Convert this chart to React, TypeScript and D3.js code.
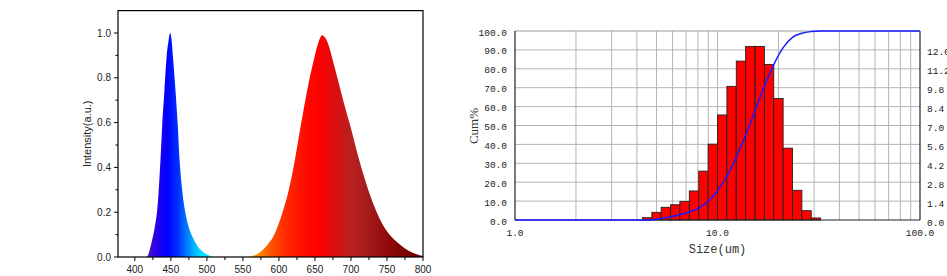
import React from "react";
import * as d3 from "d3";

// ---------- Left chart: emission spectrum ----------
const blueWave = [415, 418, 422, 425, 428, 431, 433, 436, 438, 441, 444, 447, 449, 451, 453, 456.5, 459.5, 462, 466, 470, 474, 480, 486, 492, 497, 502, 507];
const blueInt = [0, 0.006, 0.05, 0.09, 0.14, 0.21, 0.29, 0.46, 0.59, 0.74, 0.89, 0.97, 1.0, 0.97, 0.89, 0.74, 0.59, 0.44, 0.29, 0.2, 0.143, 0.09, 0.054, 0.03, 0.017, 0.009, 0];

const redWave = [555, 567, 575, 584, 592, 599, 606, 613, 622.5, 630.5, 639, 649, 655, 660, 665, 670, 675, 680, 690, 700, 710, 720, 730, 740, 750, 760, 770, 780, 790, 800];
const redInt = [0, 0.009, 0.025, 0.054, 0.09, 0.143, 0.21, 0.29, 0.44, 0.59, 0.74, 0.887, 0.96, 0.99, 0.975, 0.935, 0.875, 0.815, 0.69, 0.575, 0.45, 0.34, 0.245, 0.17, 0.115, 0.078, 0.05, 0.028, 0.013, 0.004];

const blueStopWave = [418, 430, 445, 460, 470, 480, 490, 505];
const blueStopColor = ["#4a10c8", "#2a00e8", "#0000ff", "#0030ff", "#0070ff", "#00a8ff", "#00d8ff", "#00f0ff"];
const redStopWave = [558, 575, 590, 610, 640, 655, 680, 700, 720, 750, 780, 800];
const redStopColor = ["#ffc000", "#ff8000", "#ff5000", "#ff2a00", "#ff0800", "#ff0000", "#d81010", "#b82020", "#a81c1c", "#900a0a", "#780000", "#680000"];

const specXTicks = [400, 450, 500, 550, 600, 650, 700, 750, 800];
const specXMinor = [425, 475, 525, 575, 625, 675, 725, 775];
const specYTicks = [0, 0.2, 0.4, 0.6, 0.8, 1.0];
const specYMinor = [0.1, 0.3, 0.5, 0.7, 0.9];

// ---------- Right chart: particle size distribution ----------
const binEdges = [4.26, 4.74, 5.27, 5.86, 6.52, 7.26, 8.08, 8.99, 10.0, 11.13, 12.38, 13.77, 15.32, 17.04, 18.96, 21.09, 23.46, 26.1, 29.04, 32.3];
const binHeights = [0.17, 0.57, 0.94, 1.13, 1.38, 2.15, 3.62, 5.62, 7.78, 9.9, 11.77, 12.86, 12.86, 11.52, 9.0, 5.32, 2.2, 0.69, 0.15];
const cumSize = [1.0, 4.26, 4.74, 5.27, 5.86, 6.52, 7.26, 8.08, 8.99, 10.0, 11.13, 12.38, 13.77, 15.32, 17.04, 18.96, 21.09, 23.46, 26.1, 29.04, 32.3, 100];
const cumPct = [0, 0, 0.17, 0.74, 1.68, 2.81, 4.19, 6.31, 9.9, 15.5, 23.3, 33.2, 44.9, 57.8, 70.7, 82.2, 91.2, 96.6, 98.8, 99.7, 100, 100];

const cumTicks = [0, 10, 20, 30, 40, 50, 60, 70, 80, 90, 100];
const freqTicks = [0, 1.4, 2.8, 4.2, 5.6, 7.0, 8.4, 9.8, 11.2, 12.6];
const sizeGrid = [2, 3, 4, 5, 6, 7, 8, 9, 10, 20, 30, 40, 50, 60, 70, 80, 90];
const sizeLabels = [1, 10, 100];

export default function App() {
  // left chart scales
  const sx = d3.scaleLinear().domain([376.6, 800]).range([118, 423]);
  const sy = d3.scaleLinear().domain([0, 1.1]).range([257, 10.6]);

  const mkArea = (w: number[], v: number[]) =>
    d3
      .area<number>()
      .x((_, i) => sx(w[i]))
      .y0(sy(0))
      .y1((_, i) => sy(v[i]))
      .curve(d3.curveMonotoneX)(w) as string;

  // right chart scales
  const rx = d3.scaleLog().domain([1, 100]).range([515, 920]);
  const ryL = d3.scaleLinear().domain([0, 100]).range([220, 31]);
  const ryR = d3.scaleLinear().domain([0, 14]).range([220, 31]);
  const cumLine = d3
    .line<number>()
    .x((_, i) => rx(cumSize[i]))
    .y((_, i) => ryL(cumPct[i]))
    .curve(d3.curveMonotoneX)(cumSize) as string;

  const sans = "'Liberation Sans', Arial, sans-serif";
  const mono = "'Liberation Mono', 'Courier New', monospace";

  return (
    <svg
      width={947}
      height={276}
      style={{ position: "absolute", left: 0, top: 0, background: "#fff" }}
    >
      <defs>
        <linearGradient id="gBlue" gradientUnits="userSpaceOnUse" x1={sx(blueStopWave[0])} x2={sx(blueStopWave[blueStopWave.length - 1])} y1={0} y2={0}>
          {blueStopWave.map((w, i) => (
            <stop key={i} offset={(w - blueStopWave[0]) / (blueStopWave[blueStopWave.length - 1] - blueStopWave[0])} stopColor={blueStopColor[i]} />
          ))}
        </linearGradient>
        <linearGradient id="gRed" gradientUnits="userSpaceOnUse" x1={sx(redStopWave[0])} x2={sx(redStopWave[redStopWave.length - 1])} y1={0} y2={0}>
          {redStopWave.map((w, i) => (
            <stop key={i} offset={(w - redStopWave[0]) / (redStopWave[redStopWave.length - 1] - redStopWave[0])} stopColor={redStopColor[i]} />
          ))}
        </linearGradient>
      </defs>

      {/* ---------- Left chart ---------- */}
      <path d={mkArea(blueWave, blueInt)} fill="url(#gBlue)" />
      <path d={mkArea(redWave, redInt)} fill="url(#gRed)" />
      <rect x={118} y={10.6} width={305} height={257 - 10.6} fill="none" stroke="#000" strokeWidth={1.2} />
      {specXTicks.map((t) => (
        <g key={"sx" + t}>
          <line x1={sx(t)} x2={sx(t)} y1={257} y2={261} stroke="#000" strokeWidth={1} />
          <text x={sx(t)} y={269.5} textAnchor="middle" dominantBaseline="central" fontFamily={sans} fontSize={10} fill="#222">
            {t}
          </text>
        </g>
      ))}
      {specXMinor.map((t) => (
        <line key={"sxm" + t} x1={sx(t)} x2={sx(t)} y1={257} y2={260} stroke="#000" strokeWidth={1} />
      ))}
      {specYTicks.map((t) => (
        <g key={"sy" + t}>
          <line x1={114} x2={118} y1={sy(t)} y2={sy(t)} stroke="#000" strokeWidth={1} />
          <text x={111} y={sy(t)} textAnchor="end" dominantBaseline="central" fontFamily={sans} fontSize={10} fill="#222">
            {t.toFixed(1)}
          </text>
        </g>
      ))}
      {specYMinor.map((t) => (
        <line key={"sym" + t} x1={115.5} x2={118} y1={sy(t)} y2={sy(t)} stroke="#000" strokeWidth={1} />
      ))}
      <text
        transform={`translate(87,${(257 + 10.6) / 2}) rotate(-90)`}
        textAnchor="middle"
        dominantBaseline="central"
        fontFamily={sans}
        fontSize={11}
        fill="#222"
      >
        Intensity(a.u.)
      </text>

      {/* ---------- Right chart ---------- */}
      {cumTicks.slice(1, -1).map((t) => (
        <line key={"gh" + t} x1={515} x2={920} y1={ryL(t)} y2={ryL(t)} stroke="#b4b4b4" strokeWidth={1} />
      ))}
      {sizeGrid.map((s) => (
        <line key={"gv" + s} x1={rx(s)} x2={rx(s)} y1={31} y2={220} stroke="#b4b4b4" strokeWidth={1} />
      ))}
      <line x1={515} x2={920} y1={31} y2={31} stroke="#9a9a9a" strokeWidth={1} />
      {binHeights.map((h, i) => (
        <rect
          key={"b" + i}
          x={rx(binEdges[i])}
          y={ryR(h)}
          width={rx(binEdges[i + 1]) - rx(binEdges[i])}
          height={ryR(0) - ryR(h)}
          fill="#ff0000"
          stroke="#222"
          strokeWidth={0.9}
        />
      ))}
      <line x1={515} x2={515} y1={31} y2={220} stroke="#222" strokeWidth={1.2} />
      <line x1={920} x2={920} y1={31} y2={220} stroke="#222" strokeWidth={1.2} />
      <line x1={515} x2={920} y1={220} y2={220} stroke="#222" strokeWidth={1.2} />
      <path d={cumLine} fill="none" stroke="#1a1aff" strokeWidth={1.5} />

      {cumTicks.map((t) => (
        <text key={"lt" + t} x={507} y={ryL(t) + 2} textAnchor="end" dominantBaseline="central" fontFamily={mono} fontSize={9.5} fill="#222">
          {t.toFixed(1)}
        </text>
      ))}
      {freqTicks.map((t) => (
        <text key={"rt" + t} x={927} y={ryR(t) + 3} textAnchor="start" dominantBaseline="central" fontFamily={mono} fontSize={9.5} fill="#222">
          {t.toFixed(1)}
        </text>
      ))}
      {sizeLabels.map((s) => (
        <text key={"xl" + s} x={rx(s)} y={233} textAnchor="middle" dominantBaseline="central" fontFamily={mono} fontSize={9.5} fill="#222">
          {s.toFixed(1)}
        </text>
      ))}
      <text x={rx(10)} y={250} textAnchor="middle" dominantBaseline="central" fontFamily={mono} fontSize={12} fill="#333">
        Size(um)
      </text>
      <text
        transform={`translate(473,126) rotate(-90)`}
        textAnchor="middle"
        dominantBaseline="central"
        fontFamily="'Liberation Serif', 'Times New Roman', serif"
        fontSize={13}
        fill="#333"
      >
        Cum%
      </text>
    </svg>
  );
}
